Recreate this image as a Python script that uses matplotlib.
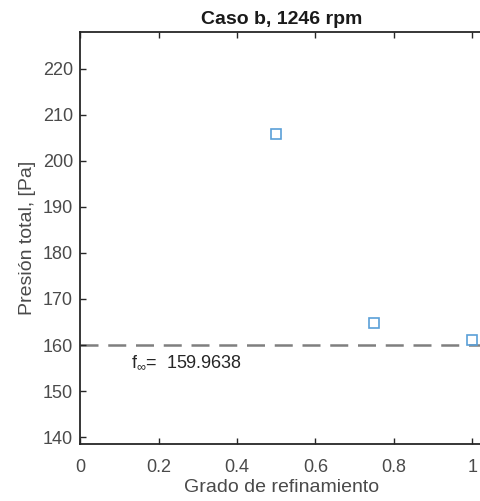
import matplotlib
matplotlib.use("Agg")
import matplotlib.pyplot as plt

refinement = [0.5, 0.75, 1.0]
pressure = [205.8, 164.8, 161.0]
f_inf = 159.9638
x_ticks = [0, 0.2, 0.4, 0.6, 0.8, 1]
y_ticks = [140, 150, 160, 170, 180, 190, 200, 210, 220]

plt.rcParams['font.family'] = ['Liberation Sans', 'DejaVu Sans']
plt.rcParams['mathtext.fontset'] = 'custom'
plt.rcParams['mathtext.rm'] = 'Liberation Sans'
W, H = 481, 501
fig = plt.figure(figsize=(W / 100, H / 100), dpi=100)
left, right, top, bottom = 80, 483, 32, 444
ax = fig.add_axes([left / W, 1 - bottom / H, (right - left) / W, (bottom - top) / H])

txt = '#4a4a4a'
spine = '#262626'
ax.axhline(f_inf, color='#7f7f7f', linestyle=(0, (7.2, 3.9)), linewidth=1.8, zorder=1)
ax.plot(refinement, pressure, linestyle='none', marker='s', markersize=6.5,
        markerfacecolor='none', markeredgecolor='#5aa0d8', markeredgewidth=1.2,
        zorder=3, clip_on=False)
ax.text(0.13, 156.2, r'f$_{\infty}$=  ' + f'{f_inf:.4f}', fontsize=13, color='#262626',
        va='center', ha='left')

ax.set_xlim(0, (right - left) / 392.5)
ax.set_ylim(138.5, 228)
ax.set_xticks(x_ticks)
ax.set_xticklabels(['0', '0.2', '0.4', '0.6', '0.8', '1'])
ax.set_yticks(y_ticks)
for s in ['left', 'bottom', 'top']:
    ax.spines[s].set_color(spine)
    ax.spines[s].set_linewidth(1.3)
ax.spines['right'].set_visible(False)
ax.tick_params(axis='both', direction='in', length=4, width=1, colors=spine,
               labelcolor=txt, labelsize=13, top=True, right=False)
ax.tick_params(axis='x', pad=11)
ax.tick_params(axis='y', pad=5)
ax.set_xlabel('Grado de refinamiento', fontsize=14, color=txt, labelpad=2)
ax.set_ylabel('Presión total, [Pa]', fontsize=14, color=txt, labelpad=5)
ax.set_title('Caso b, 1246 rpm', fontsize=14, fontweight='bold', color='#1a1a1a', pad=6)

fig.savefig('out.png', dpi=100)
